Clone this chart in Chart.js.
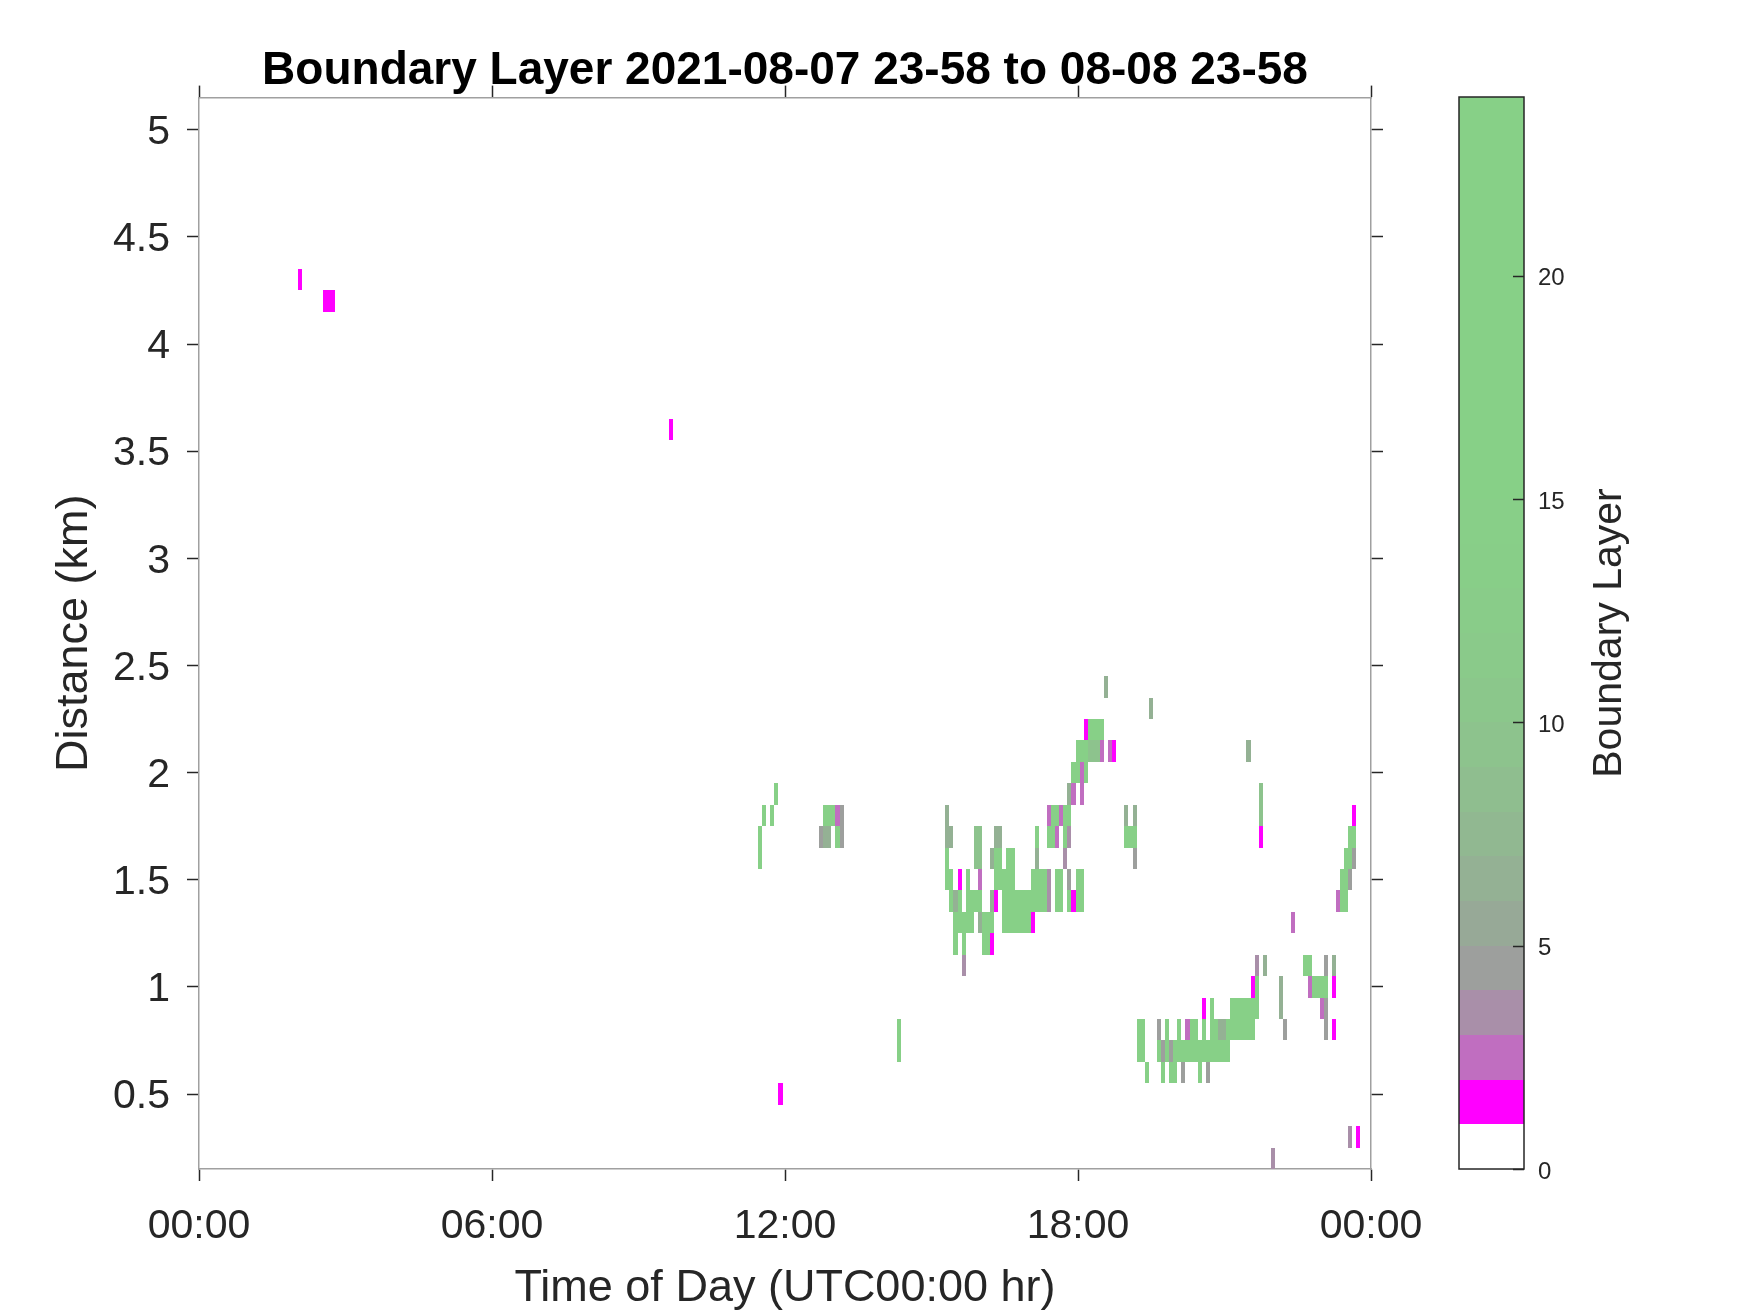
<!DOCTYPE html>
<html lang="en">
  <head>
    <meta charset="UTF-8" />
    <title>Boundary Layer</title>
    <style>
      html, body { margin: 0; padding: 0; background: #ffffff; }
      #wrap { position: relative; width: 1750px; height: 1313px; }
      #main { position: absolute; left: 0; top: 0; }
      #bar { position: absolute; left: 1440px; top: 0; }
    </style>
  </head>
  <body>
    <div id="wrap">
      <canvas id="main" width="1750" height="1313"></canvas>
      <canvas id="bar" width="310" height="1313"></canvas>
    </div>
    <script src="https://cdn.jsdelivr.net/npm/chart.js@4.4.1/dist/chart.umd.min.js"></script>
    <script>
      // one entry per block of identical cells: first scan time, scans in a row,
      // lowest / highest range gate (km, 0.1 km gates) and the layer value
      const scanStart = [
        "02:02", "02:32", "09:37", "11:27", "11:32", "11:42", "11:47", "11:52",
        "12:42", "12:47", "12:47", "13:02", "13:02", "13:07", "14:17",
        "15:17", "15:17", "15:22", "15:22", "15:27", "15:27", "15:32", "15:32",
        "15:37", "15:37", "15:42", "15:47", "15:52", "15:52", "15:57", "15:57",
        "15:57", "16:02", "16:12", "16:12", "16:12", "16:12", "16:17", "16:17",
        "16:17", "16:27", "16:32", "16:42", "17:02", "17:02", "17:07", "17:07",
        "17:22", "17:22", "17:22", "17:27", "17:32", "17:32", "17:37", "17:42",
        "17:42", "17:42", "17:47", "17:47", "17:47", "17:47", "17:52", "17:52",
        "17:52", "17:57", "17:57", "18:02", "18:07", "18:07", "18:12", "18:12",
        "18:27", "18:32", "18:37", "18:42", "18:57", "18:57", "19:07", "19:07",
        "19:27", "19:12", "19:22", "19:37", "19:37", "19:42", "19:42", "19:47",
        "19:52", "19:52", "19:57", "20:02", "20:07", "20:12", "20:17", "20:27",
        "20:32", "20:32", "20:37", "20:42", "20:47", "20:52", "21:02", "21:07",
        "21:27", "21:32", "21:37", "21:37", "21:42", "21:42", "21:47", "21:57",
        "22:07", "22:12", "22:22", "22:37", "22:42", "22:47", "22:57", "23:02",
        "23:02", "23:12", "23:12", "23:12", "23:17", "23:22", "23:27", "23:32",
        "23:32", "23:32", "23:37", "23:37", "23:42"
      ];
      const scanCount = [
        1, 3, 1, 1, 1, 1, 1, 1,
        1, 2, 3, 1, 1, 1, 1,
        1, 1, 1, 1, 1, 1, 1, 1,
        1, 1, 1, 1, 2, 1, 1, 1,
        1, 2, 1, 1, 1, 1, 2, 2,
        1, 3, 2, 4, 4, 1, 1, 1,
        1, 2, 1, 2, 1, 2, 1, 2,
        1, 1, 1, 1, 1, 1, 2, 1,
        1, 3, 2, 1, 1, 1, 3, 4,
        1, 1, 1, 1, 1, 3, 1, 1,
        1, 2, 1, 1, 1, 1, 1, 1,
        1, 2, 14, 1, 1, 1, 2, 1,
        1, 1, 1, 1, 1, 2, 7, 7,
        1, 1, 1, 1, 1, 1, 1, 1,
        1, 1, 1, 2, 1, 4, 1, 1,
        1, 1, 1, 1, 1, 2, 2, 2,
        1, 1, 1, 1, 1
      ];
      const gateLow = [
        4.3, 4.2, 3.6, 1.6, 1.8, 1.8, 1.9, 0.5,
        1.7, 1.7, 1.8, 1.7, 1.8, 1.7, 0.7,
        1.7, 1.5, 1.7, 1.4, 1.4, 1.2, 1.5, 1.3,
        1.2, 1.1, 1.3, 1.3, 1.6, 1.4, 1.5, 1.4,
        1.3, 1.2, 1.6, 1.4, 1.3, 1.2, 1.7, 1.5,
        1.4, 1.3, 1.6, 1.3, 1.4, 1.3, 1.7, 1.6,
        1.8, 1.7, 1.4, 1.8, 1.7, 1.4, 1.8, 1.8,
        1.7, 1.6, 1.9, 1.7, 1.5, 1.4, 2.0, 1.9,
        1.4, 2.1, 1.4, 1.9, 2.2, 2.0, 2.1, 2.2,
        2.1, 2.4, 2.1, 2.1, 1.8, 1.7, 1.8, 1.6,
        2.3, 0.7, 0.6, 0.8, 0.7, 0.7, 0.6, 0.7,
        0.7, 0.6, 0.7, 0.8, 0.6, 0.8, 0.8, 0.6,
        0.9, 0.8, 0.6, 0.8, 0.8, 0.8, 0.8, 0.9,
        2.1, 1.0, 1.1, 1.0, 1.8, 1.7, 1.1, 0.2,
        0.9, 0.8, 1.3, 1.1, 1.0, 1.0, 0.9, 1.1,
        0.8, 1.1, 1.0, 0.8, 1.4, 1.4, 1.6, 1.7,
        1.5, 0.3, 1.8, 1.6, 0.3
      ];
      const gateHigh = [
        4.3, 4.2, 3.6, 1.7, 1.8, 1.8, 1.9, 0.5,
        1.7, 1.7, 1.8, 1.7, 1.8, 1.8, 0.8,
        1.8, 1.6, 1.7, 1.5, 1.4, 1.3, 1.5, 1.4,
        1.3, 1.1, 1.5, 1.4, 1.7, 1.4, 1.5, 1.4,
        1.3, 1.3, 1.6, 1.4, 1.3, 1.2, 1.7, 1.6,
        1.4, 1.5, 1.6, 1.4, 1.5, 1.3, 1.7, 1.6,
        1.8, 1.7, 1.5, 1.8, 1.7, 1.5, 1.8, 1.8,
        1.7, 1.6, 1.9, 1.7, 1.5, 1.4, 2.0, 1.9,
        1.4, 2.1, 1.5, 2.0, 2.2, 2.0, 2.1, 2.2,
        2.1, 2.4, 2.1, 2.1, 1.8, 1.7, 1.8, 1.6,
        2.3, 0.8, 0.6, 0.8, 0.7, 0.7, 0.6, 0.8,
        0.7, 0.6, 0.7, 0.8, 0.6, 0.8, 0.8, 0.6,
        0.9, 0.8, 0.6, 0.9, 0.8, 0.8, 0.8, 0.9,
        2.1, 1.0, 1.1, 1.0, 1.9, 1.7, 1.1, 0.2,
        1.0, 0.8, 1.3, 1.1, 1.0, 1.0, 0.9, 1.1,
        0.9, 1.1, 1.0, 0.8, 1.4, 1.5, 1.6, 1.7,
        1.5, 0.3, 1.8, 1.6, 0.3
      ];
      const layerValue = [
        1.5, 1.5, 1.5, 18, 18, 18, 18, 1.5,
        4.5, 6.5, 18, 18, 2.5, 4.5, 18,
        6.5, 18, 6.5, 18, 6.5, 18, 1.5, 18,
        18, 3.5, 18, 18, 9.5, 18, 2.5, 18,
        6.5, 18, 6.5, 6.5, 18, 1.5, 6.5, 18,
        1.5, 18, 18, 18, 18, 1.5, 18, 6.5,
        2.5, 18, 3.5, 18, 2.5, 18, 2.5, 18,
        18, 3.5, 6.5, 3.5, 4.5, 18, 18, 2.5,
        1.5, 18, 18, 2.5, 1.5, 18, 9.5, 18,
        2.5, 6.5, 2.5, 1.5, 6.5, 18, 6.5, 4.5,
        6.5, 18, 18, 4.5, 18, 4.5, 18, 18,
        4.5, 18, 18, 18, 4.5, 2.5, 18, 18,
        1.5, 18, 4.5, 18, 18, 6.5, 18, 18,
        6.5, 1.5, 3.5, 18, 9.5, 1.5, 6.5, 3.5,
        6.5, 4.5, 2.5, 18, 2.5, 18, 2.5, 4.5,
        4.5, 6.5, 1.5, 1.5, 2.5, 18, 18, 18,
        4.5, 3.5, 1.5, 4.5, 1.5
      ];

      const timeTicks = [0, 360, 720, 1080, 1440];
      const timeTickLabels = ["00:00", "06:00", "12:00", "18:00", "00:00"];
      const distTicks = [0.5, 1, 1.5, 2, 2.5, 3, 3.5, 4, 4.5, 5];
      const colorTicks = [0, 5, 10, 15, 20];

      const SCAN_MIN = 5;
      const GATE_KM = 0.1;
      const COLOR_MAX = 24;

      // colormap, one colour per unit step of the layer value
      const levelColors = [
        "#ffffff", "#ff00ff", "#c06ec0", "#a98fa9", "#9d9f9d", "#97a997",
        "#94b194", "#91b891", "#8fbe8f", "#8dc38d", "#8bc78b", "#8aca8a",
        "#89cc89", "#88ce88", "#88cf88", "#87d087", "#87d087", "#87d087",
        "#87d087", "#87d087", "#87d087", "#87d087", "#87d087", "#87d087"
      ];
      const colorFor = (v) => levelColors[Math.max(0, Math.min(COLOR_MAX - 1, Math.floor(v)))];

      const toMinutes = (s) => {
        const [h, m] = s.split(":").map(Number);
        return h * 60 + m;
      };

      const cells = scanStart.map((s, k) => {
        const t0 = toMinutes(s);
        const t1 = t0 + scanCount[k] * SCAN_MIN;
        const h0 = gateLow[k] - GATE_KM / 2;
        const h1 = gateHigh[k] + GATE_KM / 2;
        return { x: (t0 + t1) / 2, y: (h0 + h1) / 2, t0, t1, h0, h1, v: layerValue[k] };
      });

      const FONT = "'Liberation Sans', Arial, Helvetica, sans-serif";
      const INK = "#262626";
      Chart.defaults.font.family = FONT;
      Chart.defaults.color = INK;

      const cellPlugin = {
        id: "cells",
        beforeDatasetsDraw(chart) {
          const { ctx, chartArea, scales } = chart;
          const x = scales.x;
          const y = scales.y;
          ctx.save();
          ctx.beginPath();
          ctx.rect(chartArea.left, chartArea.top, chartArea.width, chartArea.height);
          ctx.clip();
          chart.data.datasets[0].data.forEach((c) => {
            const l = Math.round(x.getPixelForValue(c.t0));
            const r = Math.round(x.getPixelForValue(c.t1));
            const t = Math.round(y.getPixelForValue(c.h1));
            const b = Math.round(y.getPixelForValue(c.h0));
            ctx.fillStyle = colorFor(c.v);
            ctx.fillRect(l, t, r - l, b - t);
          });
          ctx.restore();
        },
      };

      const tickGrid = {
        drawOnChartArea: false,
        drawTicks: true,
        tickLength: 12,
        tickColor: INK,
        tickWidth: 1.5,
      };
      const boxBorder = { display: true, color: "#a0a0a0", width: 1.5 };

      new Chart(document.getElementById("main"), {
        type: "scatter",
        data: {
          datasets: [{ data: cells, pointRadius: 0, pointHoverRadius: 0 }],
        },
        options: {
          responsive: false,
          animation: false,
          events: [],
          plugins: {
            legend: { display: false },
            tooltip: { enabled: false },
            title: {
              display: true,
              fullSize: false,
              text: "Boundary Layer 2021-08-07 23-58 to 08-08 23-58",
              color: "#000000",
              font: { size: 46, weight: "bold", lineHeight: 1.1 },
              padding: { top: 46, bottom: 0 },
            },
          },
          scales: {
            x: {
              type: "linear",
              position: "bottom",
              min: 0,
              max: 1440,
              afterBuildTicks: (s) => { s.ticks = timeTicks.map((v) => ({ value: v })); },
              afterFit: (s) => { s.height = 144; },
              ticks: {
                callback: (v, i) => timeTickLabels[i],
                font: { size: 41 },
                color: INK,
                padding: 21,
                maxRotation: 0,
                autoSkip: false,
              },
              grid: tickGrid,
              border: boxBorder,
              title: {
                display: true,
                text: "Time of Day (UTC00:00 hr)",
                font: { size: 45, lineHeight: 1.1 },
                color: INK,
                padding: { top: 0, bottom: 0 },
              },
            },
            xTop: {
              axis: "x",
              type: "linear",
              position: "top",
              min: 0,
              max: 1440,
              afterBuildTicks: (s) => { s.ticks = timeTicks.map((v) => ({ value: v })); },
              afterFit: (s) => { s.height = 1; },
              ticks: { display: false },
              grid: tickGrid,
              border: boxBorder,
            },
            y: {
              type: "linear",
              position: "left",
              min: 0.15,
              max: 5.15,
              afterBuildTicks: (s) => { s.ticks = distTicks.map((v) => ({ value: v })); },
              afterFit: (s) => { s.width = 199; },
              ticks: {
                callback: (v) => String(v),
                font: { size: 41 },
                color: INK,
                padding: 17,
                labelOffset: 3,
                autoSkip: false,
              },
              grid: tickGrid,
              border: boxBorder,
              title: {
                display: true,
                text: "Distance (km)",
                font: { size: 45 },
                color: INK,
                padding: { top: 48, bottom: 0 },
              },
            },
            yRight: {
              axis: "y",
              type: "linear",
              position: "right",
              min: 0.15,
              max: 5.15,
              afterBuildTicks: (s) => { s.ticks = distTicks.map((v) => ({ value: v })); },
              afterFit: (s) => { s.width = 379; },
              ticks: { display: false },
              grid: tickGrid,
              border: boxBorder,
            },
          },
        },
        plugins: [cellPlugin],
      });

      // colour bar
      const barPlugin = {
        id: "colorbar",
        beforeDatasetsDraw(chart) {
          const { ctx, chartArea } = chart;
          const y = chart.scales.y;
          ctx.save();
          for (let k = 0; k < COLOR_MAX; k++) {
            const t = Math.round(y.getPixelForValue(k + 1));
            const b = Math.round(y.getPixelForValue(k));
            ctx.fillStyle = levelColors[k];
            ctx.fillRect(chartArea.left, t, chartArea.width, b - t);
          }
          ctx.restore();
        },
        afterDraw(chart) {
          const { ctx, chartArea } = chart;
          const y = chart.scales.y;
          ctx.save();
          ctx.strokeStyle = INK;
          ctx.lineWidth = 1.5;
          ctx.strokeRect(chartArea.left, chartArea.top, chartArea.width, chartArea.height);
          ctx.beginPath();
          colorTicks.forEach((v) => {
            const py = Math.round(y.getPixelForValue(v)) + 0.5;
            ctx.moveTo(chartArea.right, py);
            ctx.lineTo(chartArea.right - 11, py);
          });
          ctx.stroke();
          ctx.translate(170, (chartArea.top + chartArea.bottom) / 2);
          ctx.rotate(-Math.PI / 2);
          ctx.fillStyle = INK;
          ctx.font = "41px " + FONT;
          ctx.textAlign = "center";
          ctx.textBaseline = "middle";
          ctx.fillText("Boundary Layer", 0, 0);
          ctx.restore();
        },
      };

      new Chart(document.getElementById("bar"), {
        type: "scatter",
        data: { datasets: [{ data: [] }] },
        options: {
          responsive: false,
          animation: false,
          events: [],
          layout: { padding: { left: 19, top: 97, bottom: 144, right: 0 } },
          plugins: { legend: { display: false }, tooltip: { enabled: false } },
          scales: {
            x: { type: "linear", display: false, min: 0, max: 1 },
            y: {
              type: "linear",
              position: "right",
              min: 0,
              max: COLOR_MAX,
              afterBuildTicks: (s) => { s.ticks = colorTicks.map((v) => ({ value: v })); },
              afterFit: (s) => { s.width = 226; },
              ticks: { font: { size: 24 }, color: INK, padding: 14, labelOffset: 3, autoSkip: false },
              grid: { drawOnChartArea: false, drawTicks: false },
              border: { display: false },
            },
          },
        },
        plugins: [barPlugin],
      });
    </script>
  </body>
</html>
